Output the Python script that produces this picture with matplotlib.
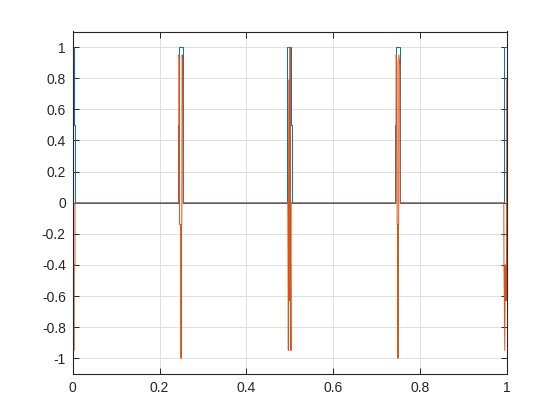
import numpy as np
import matplotlib.pyplot as plt

plt.rcParams['font.family'] = ['Liberation Sans', 'DejaVu Sans']

# series 1 (blue)
blue_x = [0, 0.0023, 0.0023, 0.0046, 0.0046,
          0.2422, 0.2422, 0.2438, 0.2438, 0.2542, 0.2542,
          0.4946, 0.4946, 0.5038, 0.5038, 0.5052, 0.5052,
          0.7428, 0.7428, 0.7444, 0.7444, 0.7548, 0.7548,
          0.9931, 0.9931, 1.0]
blue_y = [1, 1, 0.5, 0.5, 0,
          0, 0.5, 0.5, 1, 1, 0,
          0, 1, 1, 0.5, 0.5, 0,
          0, 0.5, 0.5, 1, 1, 0,
          0, 1, 1]

# series 2 (orange)
orange_x = [0, 0.0008, 0.0016, 0.0024, 0.0032, 0.0050, 0.0050,
            0.2442, 0.2446, 0.2455, 0.2460, 0.2488, 0.2494, 0.2500, 0.2512, 0.2519, 0.2540, 0.2545,
            0.4955, 0.4966, 0.4972, 0.4985, 0.4990, 0.4996, 0.5007, 0.5012, 0.5018, 0.5027, 0.5032,
            0.7446, 0.7450, 0.7470, 0.7474, 0.7488, 0.7493, 0.7498, 0.7510, 0.7514, 0.7540, 0.7545,
            0.9931, 0.9935, 0.9954, 0.9962, 0.9975, 0.9985, 0.9993, 1.0]
orange_y = [-0.63, -0.95, -0.4, -0.95, -0.4, -0.4, 0,
            0, 0.95, 0.93, -0.14, -0.14, -1, -0.14, -0.14, 0.95, 0.88, 0,
            0, -0.95, -0.4, 0.79, -0.63, -0.4, 1.0, -0.63, -0.4, -0.95, 0,
            0, 0.95, 0.9, -0.14, -0.14, -1, -0.14, -0.14, 0.95, 0.88, 0,
            0, -0.4, -0.95, -0.4, -0.63, -0.4, -0.63, 0.8]

xticks = [0, 0.2, 0.4, 0.6, 0.8, 1]
xlabels = ['0', '0.2', '0.4', '0.6', '0.8', '1']
yticks = [-1, -0.8, -0.6, -0.4, -0.2, 0, 0.2, 0.4, 0.6, 0.8, 1]
ylabels = ['-1', '-0.8', '-0.6', '-0.4', '-0.2', '0', '0.2', '0.4', '0.6', '0.8', '1']

axcol = (0.15, 0.15, 0.15)

fig = plt.figure(figsize=(5.6, 4.2), dpi=100)
ax = fig.add_axes([0.13, 0.11, 0.775, 0.815])

ax.plot(blue_x, blue_y, color=(0, 0.447, 0.741), lw=0.7)
ax.plot(orange_x, orange_y, color=(0.85, 0.325, 0.098), lw=0.7)

ax.set_xlim(0, 1)
ax.set_ylim(-1.1, 1.1)
ax.set_xticks(xticks)
ax.set_xticklabels(xlabels)
ax.set_yticks(yticks)
ax.set_yticklabels(ylabels)

ax.grid(True, color=(0.87, 0.87, 0.87), lw=0.7)
ax.set_axisbelow(True)
ax.tick_params(direction='in', top=True, right=True, length=4, width=0.7,
               colors=axcol, labelsize=10, pad=5)
for s in ax.spines.values():
    s.set_color(axcol)
    s.set_linewidth(0.8)

fig.savefig('out.png', dpi=100)
